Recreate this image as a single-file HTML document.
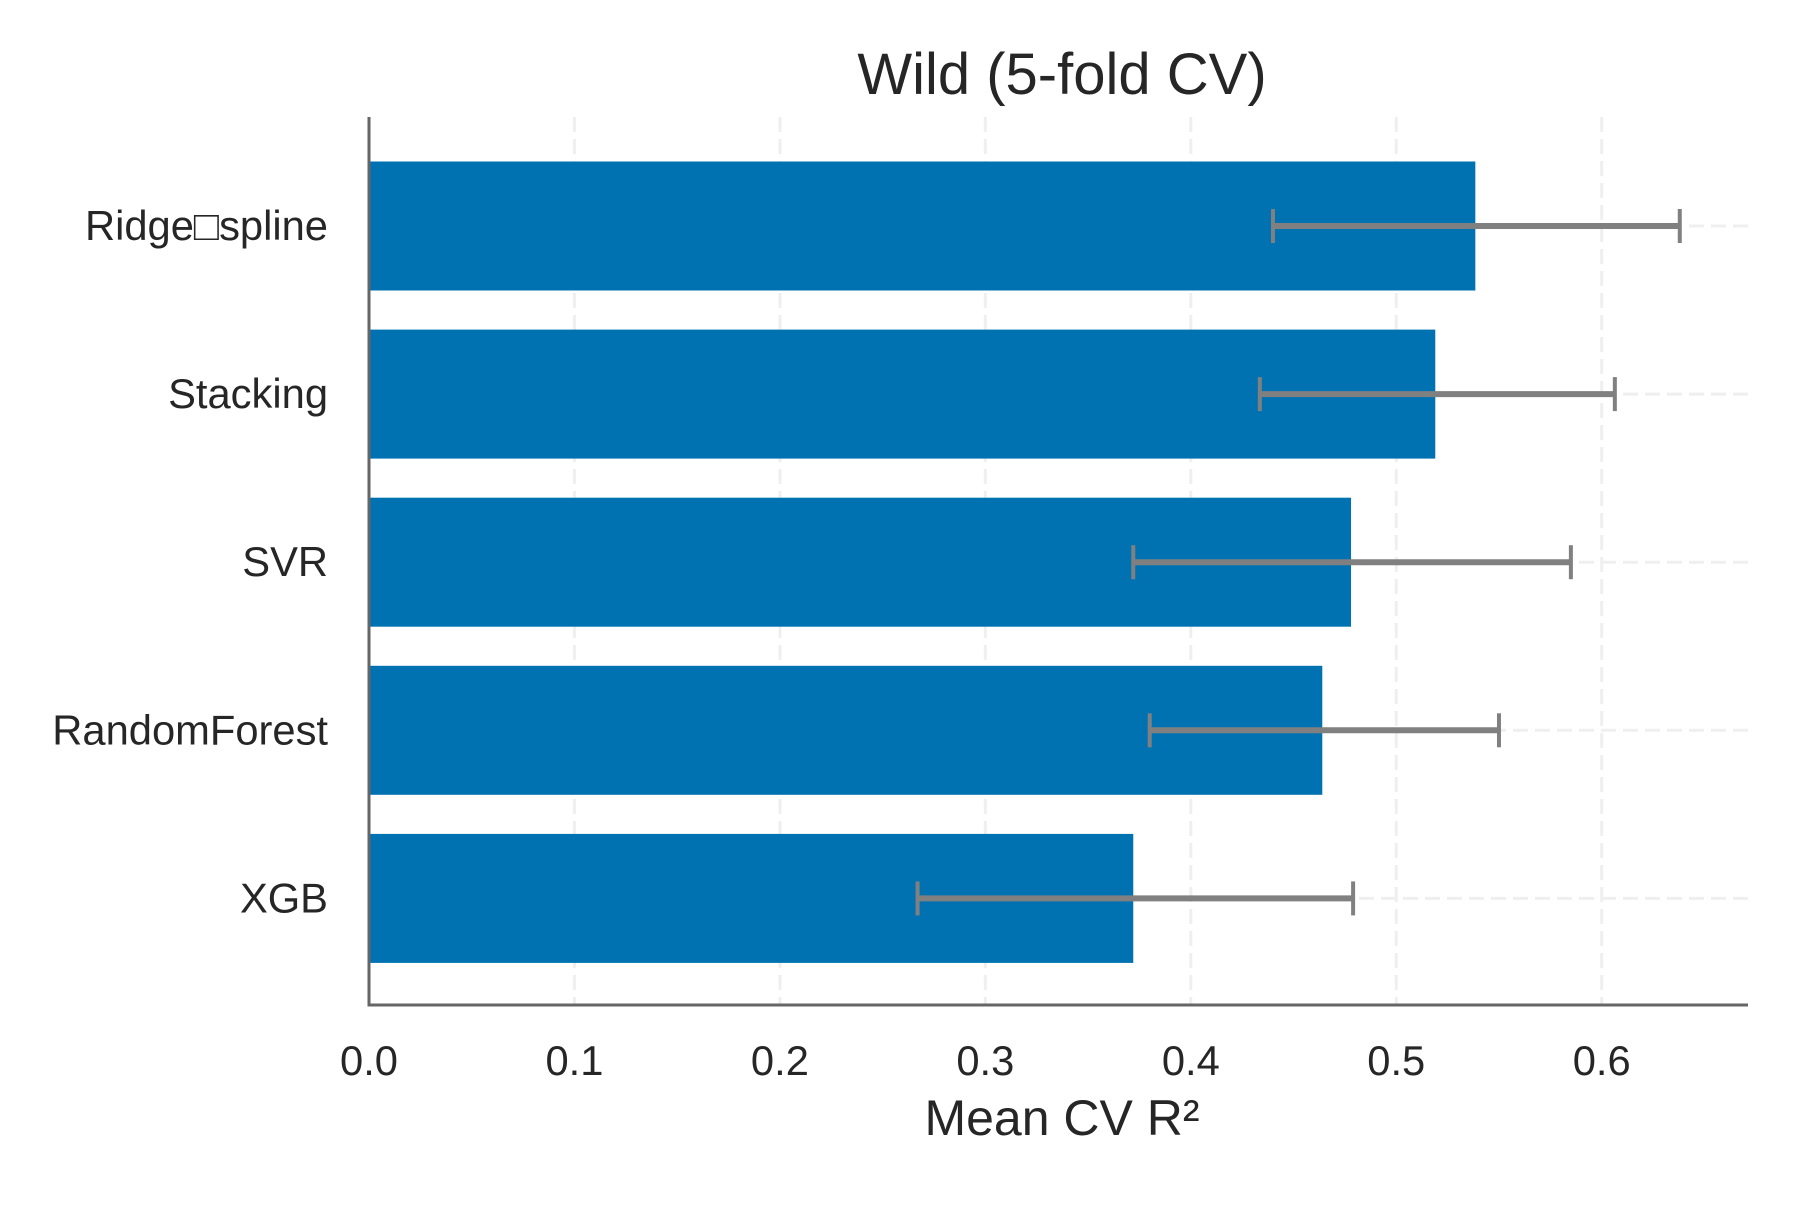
<!DOCTYPE html>
<html><head><meta charset="utf-8"><style>
html,body{margin:0;padding:0;background:#fff;}
svg text{font-family:"Liberation Sans",Arial,sans-serif;fill:#262626;}
</style></head><body>
<svg id="chart" width="1800" height="1200" viewBox="0 0 1800 1200" xmlns="http://www.w3.org/2000/svg">
<g id="grid"></g>
<g id="bars"></g>
<g id="errs"></g>
<g id="axes"></g>
<text x="1062" y="94" font-size="58" text-anchor="middle">Wild (5-fold CV)</text>
<text x="1062" y="1135" font-size="50" text-anchor="middle">Mean CV R²</text>
</svg>
<script>
const categories = ["Ridge\u25A1spline", "Stacking", "SVR", "RandomForest", "XGB"];
const means = [0.5385, 0.519, 0.478, 0.464, 0.372];
const stds = [0.099, 0.0864, 0.1065, 0.085, 0.106];
const errCenters = [0.539, 0.520, 0.4785, 0.465, 0.373];
const xTicks = [0, 0.1, 0.2, 0.3, 0.4, 0.5, 0.6];
const xTickLabels = ["0.0", "0.1", "0.2", "0.3", "0.4", "0.5", "0.6"];

const NS = "http://www.w3.org/2000/svg";
const X0 = 369, XSCALE = 2054.5, XEND = 1748;
const Y0 = 226, YSTEP = 168.1, BAND = 129;
const TOP = 117, BOTTOM = 1005;
function xs(v){ return X0 + v * XSCALE; }
function ys(i){ return Y0 + i * YSTEP; }
function mk(tag, attrs, parent){
  const e = document.createElementNS(NS, tag);
  for (const k in attrs) e.setAttribute(k, attrs[k]);
  parent.appendChild(e);
  return e;
}
const grid = document.getElementById('grid');
const bars = document.getElementById('bars');
const errs = document.getElementById('errs');
const axes = document.getElementById('axes');

xTicks.forEach((t, i) => {
  if (t > 0) {
    const g = mk('line', {x1: xs(t), x2: xs(t), y1: TOP, y2: BOTTOM, stroke: '#efefef', 'stroke-width': 3, 'stroke-dasharray': '15,7'}, grid);
    
    
  }
  const tl = mk('text', {x: xs(t), y: 1075, 'font-size': 41.7, 'text-anchor': 'middle'}, axes);
  tl.textContent = xTickLabels[i];
  
  
});
categories.forEach((c, i) => {
  const g = mk('line', {x1: X0, x2: XEND, y1: ys(i), y2: ys(i), stroke: '#efefef', 'stroke-width': 3, 'stroke-dasharray': '15,7'}, grid);
  
  
  const r = mk('rect', {x: xs(0), y: ys(i) - BAND/2, width: xs(means[i]) - xs(0), height: BAND, fill: '#0072b2'}, bars);
  
  
  const lo = xs(errCenters[i] - stds[i]), hi = xs(errCenters[i] + stds[i]);
  const eg = mk('g', {stroke: '#808080', 'stroke-width': 4}, errs);
  
  
  mk('line', {x1: lo, x2: hi, y1: ys(i), y2: ys(i), 'stroke-width': 6}, eg);
  mk('line', {x1: lo, x2: lo, y1: ys(i) - 17, y2: ys(i) + 17}, eg);
  mk('line', {x1: hi, x2: hi, y1: ys(i) - 17, y2: ys(i) + 17}, eg);
  const lbl = mk('text', {x: 328, y: ys(i) + 14, 'font-size': 41.7, 'text-anchor': 'end'}, axes);
  lbl.textContent = c;
  
  
});
const ya = mk('line', {x1: X0, x2: X0, y1: TOP, y2: BOTTOM + 1.5, stroke: '#666', 'stroke-width': 3}, axes);


const xa = mk('line', {x1: X0 - 1.5, x2: XEND, y1: BOTTOM, y2: BOTTOM, stroke: '#666', 'stroke-width': 3}, axes);


</script>
</body></html>
